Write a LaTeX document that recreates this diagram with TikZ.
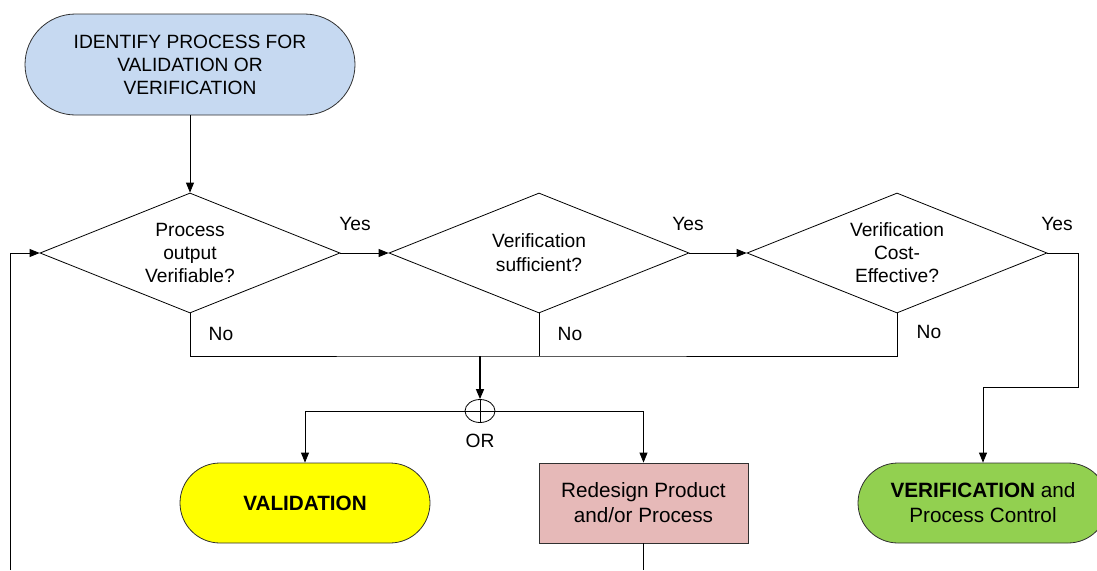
\documentclass[tikz,border=0pt]{standalone}
\usepackage{fontspec}
\setmainfont{Liberation Sans}
\usetikzlibrary{shapes.geometric,shapes.misc,arrows.meta}
\definecolor{startblue}{HTML}{C6D9F1}
\definecolor{valyellow}{HTML}{FFFF00}
\definecolor{redpink}{HTML}{E6B9B8}
\definecolor{vergreen}{HTML}{92D050}
\definecolor{edge}{HTML}{303030}
\begin{document}
\begin{tikzpicture}[x=1pt,y=-1pt,
  every node/.style={font=\fontsize{19.2}{23}\selectfont, align=center, inner sep=0pt},
  bigtext/.style={font=\fontsize{20.7}{25}\selectfont},
  decision/.style={draw=black, line width=0.8pt, diamond, aspect=2.5,
    minimum width=300pt, minimum height=120pt},
  terminal/.style={draw=edge, line width=0.8pt, rounded rectangle, minimum height=80pt},
  procbox/.style={draw=edge, line width=0.8pt, rectangle, minimum height=80pt},
  conn/.style={line width=0.8pt},
  arr/.style={conn, -{Triangle[length=10pt,width=8pt]}},
  orgate/.style={draw=black, line width=0.8pt, ellipse, minimum width=30pt, minimum height=23pt}]
\useasboundingbox (0,0) rectangle (1097,570);
\clip (0,0) rectangle (1097,570);

% start terminal
\node[terminal, fill=startblue, minimum width=330pt, minimum height=101pt] (start) at (190,64.5)
  {IDENTIFY PROCESS FOR\\VALIDATION OR\\VERIFICATION};

% decisions
\node[decision] (d1) at (190,253) {Process\\output\\Verifiable?};
\node[decision, font=\fontsize{19.2}{24}\selectfont] (d2) at (539,253) {Verification\\sufficient?};
\node[decision] (d3) at (897,253) {Verification\\Cost-\\Effective?};

% outcomes
\node[terminal, bigtext, fill=valyellow, minimum width=250pt] (valid) at (305,503) {\bfseries VALIDATION};
\node[procbox, bigtext, fill=redpink, minimum width=209pt] (redesign) at (643.5,503)
  {Redesign Product\\and/or Process};
\node[terminal, bigtext, fill=vergreen, minimum width=250pt] (verif) at (983,503)
  {{\bfseries VERIFICATION} and\\Process Control};

% OR junction
\node[orgate] (or) at (480,411) {};
\node (orlbl) at (480,441) {OR};

% branch labels
\node (y1) at (355,224) {Yes};
\node (y2) at (688,224) {Yes};
\node (y3) at (1057,224) {Yes};
\node (n1) at (221,334) {No};
\node (n2) at (570,334) {No};
\node (n3) at (929,332) {No};

% routing points
\coordinate (nobus) at (480,356);
\coordinate (yesturn) at (1078,253);
\coordinate (yesdrop) at (1078,387);
\coordinate (loopbot) at (10,570);
\coordinate (loopturn) at (10,253);
\coordinate (redout) at (643.5,570);

% main flow
\draw[arr] (start.south) -- (d1.north);
\draw[arr] (d1.east) -- (d2.west);
\draw[arr] (d2.east) -- (d3.west);
\draw[arr] (d3.east) -- (yesturn) -- (yesdrop) -| (verif.north);

% "No" bus
\draw[conn] (d1.south) |- (nobus) -| (d3.south);
\draw[conn] (d2.south) -- (d2.south |- nobus);
\draw[line width=1.4pt, -{Triangle[length=10pt,width=8pt]}] (nobus) -- (or.north);

% OR split
\draw[conn] (or.north) -- (or.south);
\draw[arr] (or.center) -| (valid.north);
\draw[arr] (or.center) -| (redesign.north);

% feedback loop
\draw[conn] (redesign.south) -- (redout);
\draw[arr] (loopbot) -- (loopturn) -- (d1.west);
\end{tikzpicture}
\end{document}
